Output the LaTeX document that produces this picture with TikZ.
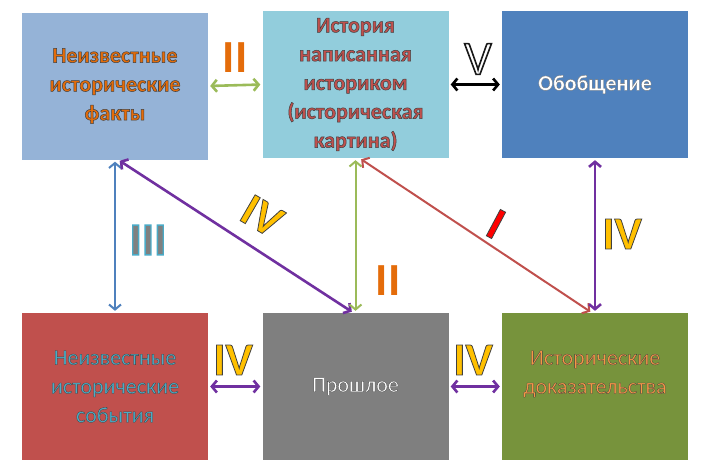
\documentclass[tikz,border=0pt]{standalone}
\usepackage{fontspec}
\setmainfont{Carlito}
\usetikzlibrary{arrows.meta, positioning, calc}
\definecolor{factblue}{HTML}{95B3D7}
\definecolor{histcyan}{HTML}{92CDDC}
\definecolor{genblue}{HTML}{4F81BD}
\definecolor{eventred}{HTML}{C0504D}
\definecolor{pastgray}{HTML}{7F7F7F}
\definecolor{evidgreen}{HTML}{77933C}
\definecolor{txtorange}{HTML}{E46C0A}
\definecolor{txtlight}{HTML}{F79646}
\definecolor{txtcyan}{HTML}{4BACC6}
\definecolor{lgreen}{HTML}{9BBB59}
\definecolor{lpurple}{HTML}{7030A0}
\definecolor{lred}{HTML}{C0504D}
\definecolor{numyellow}{HTML}{FFC000}
% outlined text: fill in the current colour, stroke in #1 (rgb), width #2
\newcommand{\obv}[3][0.25 0.25 0.25]{\special{pdf:literal direct 2 Tr #2 w #1 RG}#3\special{pdf:literal direct 0 Tr}}

\begin{document}
\begin{tikzpicture}[x=1pt, y=-1pt,
    box/.style={rectangle, minimum width=186pt, minimum height=147pt, inner sep=0pt, align=center,
        font=\fontsize{22}{28.8}\selectfont},
    boldbox/.style={box, font=\fontsize{22}{28.8}\selectfont\bfseries},
    link/.style={line width=2.6pt, shorten <=2pt, shorten >=2pt,
        {Straight Barb[length=5pt,width=12pt]}-{Straight Barb[length=5pt,width=12pt]}},
    num/.style={inner sep=0pt, font=\fontsize{46}{46}\selectfont\bfseries}]
    \useasboundingbox (0,0) rectangle (705,472);
    % boxes
    \node[boldbox, fill=factblue, text=txtorange] (fakty) at (115,86)
        {\obv{0.5}{Неизвестные\\исторические\\факты}};
    \node[boldbox, fill=histcyan, text=lred] (istoriya) at (355.5,84.5)
        {\obv{0.5}{История\\написанная\\историком\\(историческая\\картина)}};
    \node[boldbox, fill=genblue, text=white] (obobsch) at (595,84.5) {\obv[0.45 0.45 0.45]{0.3}{Обобщение}};
    \node[box, fill=eventred, text=txtcyan] (sobytiya) at (115,386.5)
        {\obv{0.3}{Неизвестные\\исторические\\события}};
    \node[box, fill=pastgray, text=white] (proshloe) at (355.5,386.5) {\obv{0.3}{Прошлое}};
    \node[box, fill=evidgreen, text=txtlight] (dokaz) at (595,386.5)
        {\obv{0.3}{Исторические\\доказательства}\\\mbox{}};
    % connections
    \draw[link, lgreen] (fakty.east) -- (istoriya.west);
    \draw[link, black] (istoriya.east) -- (obobsch.west);
    \draw[link, genblue, line width=2pt] (fakty.south) -- (sobytiya.north);
    \draw[link, lpurple] ($(fakty.south)+(3,0)$) -- ($(proshloe.north)+(-2,0)$);
    \draw[link, lgreen, line width=2pt] (istoriya.south) -- (proshloe.north);
    \draw[link, lred, line width=2pt] ($(istoriya.south)+(4,0)$) -- ($(dokaz.north)+(-3,0)$);
    \draw[link, lpurple] (obobsch.south) -- (dokaz.north);
    \draw[link, lpurple] (sobytiya.east) -- (proshloe.west);
    \draw[link, lpurple] (proshloe.east) -- (dokaz.west);
    % numerals
    \node[num, text=txtorange] (ntop) at (235,58) {II};
    \node[num, text=white, font=\fontsize{48}{48}\selectfont] (nv) at (478,59) {\obv[0.1 0.1 0.1]{1.6}{V}};
    \node[num, text=gray] (niii) at (148,240) {\obv[0.29 0.67 0.78]{1.4}{III}};
    \node[num, text=numyellow, rotate=-30] (ndiag) at (262,216) {\obv{0.8}{IV}};
    \node[num, text=txtorange] (nmid) at (388,281) {II};
    \node[num, text=red, rotate=-28] (ni) at (496,224) {\obv{0.8}{I}};
    \node[num, text=numyellow] (nright) at (622,234) {\obv{0.8}{IV}};
    \node[num, text=numyellow] (nleft) at (233,360) {\obv{0.8}{IV}};
    \node[num, text=numyellow] (nbot) at (473,360) {\obv{0.8}{IV}};
\end{tikzpicture}
\end{document}
